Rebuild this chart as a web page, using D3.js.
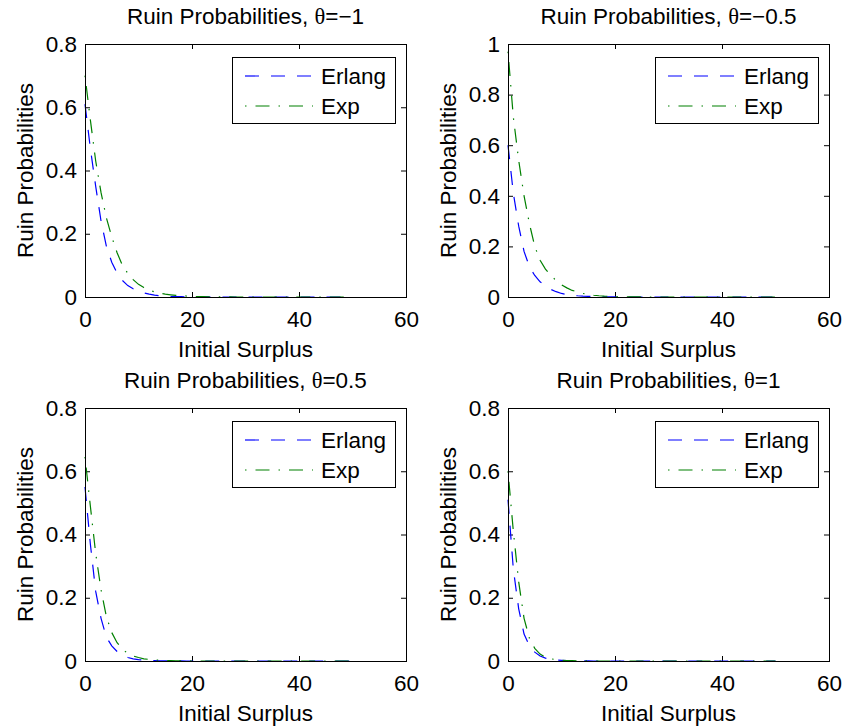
<!DOCTYPE html>
<html>
<head>
<meta charset="utf-8">
<script src="https://cdn.jsdelivr.net/npm/d3@7"></script>
<style>
  body { margin: 0; background: #fff; }
  text { font-family: "Liberation Sans", Arial, sans-serif; fill: #000; }
</style>
</head>
<body>
<svg id="chart" width="843" height="728"></svg>
<script>
var width = 843,
    height = 728;

// x grid: initial surplus 0..50
var surplus = d3.range(0, 51);

var xTicks = [0, 20, 40, 60];
var yTicks08 = [0, 0.2, 0.4, 0.6, 0.8];
var yTicks1 = [0, 0.2, 0.4, 0.6, 0.8, 1];

var thetas = ["\u22121", "\u22120.5", "0.5", "1"];
var seriesNames = ["Erlang", "Exp"];

// ruin probabilities, one value per unit of surplus
var erlangM1 = [0.61, 0.47, 0.35, 0.24, 0.16, 0.11, 0.075, 0.052, 0.036, 0.026,
    0.019, 0.013, 0.009, 0.006, 0.004, 0.003, 0.002, 0.0015, 0.001, 0.0007,
    0.0005, 0.0003, 0.0002, 0.0001, 0, 0, 0, 0, 0, 0,
    0, 0, 0, 0, 0, 0, 0, 0, 0, 0,
    0, 0, 0, 0, 0, 0, 0, 0, 0, 0, 0];
var expM1 = [0.70, 0.56, 0.43, 0.33, 0.25, 0.19, 0.14, 0.10, 0.075, 0.055,
    0.04, 0.03, 0.022, 0.016, 0.012, 0.009, 0.007, 0.005, 0.004, 0.003,
    0.002, 0.0015, 0.001, 0.0007, 0.0005, 0.0003, 0.0002, 0.0001, 0, 0,
    0, 0, 0, 0, 0, 0, 0, 0, 0, 0,
    0, 0, 0, 0, 0, 0, 0, 0, 0, 0, 0];
var erlangM05 = [0.60, 0.41, 0.28, 0.18, 0.12, 0.085, 0.06, 0.043, 0.03, 0.021,
    0.014, 0.01, 0.007, 0.005, 0.0035, 0.0025, 0.0018, 0.0012, 0.0008, 0.0005,
    0.0003, 0.0002, 0.0001, 0, 0, 0, 0, 0, 0, 0,
    0, 0, 0, 0, 0, 0, 0, 0, 0, 0,
    0, 0, 0, 0, 0, 0, 0, 0, 0, 0, 0];
var expM05 = [0.97, 0.71, 0.54, 0.40, 0.29, 0.20, 0.145, 0.11, 0.085, 0.065,
    0.048, 0.036, 0.026, 0.02, 0.014, 0.01, 0.007, 0.005, 0.0035, 0.0025,
    0.0018, 0.0012, 0.0008, 0.0005, 0.0003, 0.0002, 0.0001, 0, 0, 0,
    0, 0, 0, 0, 0, 0, 0, 0, 0, 0,
    0, 0, 0, 0, 0, 0, 0, 0, 0, 0, 0];
var erlangP05 = [0.55, 0.37, 0.22, 0.135, 0.075, 0.048, 0.03, 0.018, 0.011, 0.007,
    0.0045, 0.003, 0.002, 0.0013, 0.0008, 0.0005, 0.0003, 0.0002, 0.0001, 0,
    0, 0, 0, 0, 0, 0, 0, 0, 0, 0,
    0, 0, 0, 0, 0, 0, 0, 0, 0, 0,
    0, 0, 0, 0, 0, 0, 0, 0, 0, 0, 0];
var expP05 = [0.645, 0.49, 0.34, 0.225, 0.14, 0.09, 0.058, 0.037, 0.024, 0.016,
    0.011, 0.007, 0.005, 0.0035, 0.0025, 0.0017, 0.0012, 0.0008, 0.0005, 0.0003,
    0.0002, 0.0001, 0, 0, 0, 0, 0, 0, 0, 0,
    0, 0, 0, 0, 0, 0, 0, 0, 0, 0,
    0, 0, 0, 0, 0, 0, 0, 0, 0, 0, 0];
var erlangP1 = [0.51, 0.29, 0.165, 0.085, 0.048, 0.028, 0.016, 0.009, 0.005, 0.003,
    0.002, 0.0012, 0.0007, 0.0004, 0.0002, 0.0001, 0, 0, 0, 0,
    0, 0, 0, 0, 0, 0, 0, 0, 0, 0,
    0, 0, 0, 0, 0, 0, 0, 0, 0, 0,
    0, 0, 0, 0, 0, 0, 0, 0, 0, 0, 0];
var expP1 = [0.60, 0.41, 0.25, 0.135, 0.072, 0.04, 0.022, 0.012, 0.007, 0.004,
    0.0025, 0.0015, 0.001, 0.0006, 0.0004, 0.0002, 0.0001, 0, 0, 0,
    0, 0, 0, 0, 0, 0, 0, 0, 0, 0,
    0, 0, 0, 0, 0, 0, 0, 0, 0, 0,
    0, 0, 0, 0, 0, 0, 0, 0, 0, 0, 0];

var colors = ["#0000ff", "#008000"],
    dashes = ["14,12", "1.5,9,14,9"],
    fontSize = 22.5,
    tickLen = 5;

var panels = [
    {left: 85, top: 44, yMax: 0.8, yTicks: yTicks08, theta: thetas[0], series: [erlangM1, expM1]},
    {left: 508, top: 44, yMax: 1, yTicks: yTicks1, theta: thetas[1], series: [erlangM05, expM05]},
    {left: 85, top: 408, yMax: 0.8, yTicks: yTicks08, theta: thetas[2], series: [erlangP05, expP05]},
    {left: 508, top: 408, yMax: 0.8, yTicks: yTicks08, theta: thetas[3], series: [erlangP1, expP1]}
];
var plotW = 321,
    plotH = 253;

var svg = d3.select("#chart");

function drawPanel(p) {

    var g = svg.append("g")
        .attr("transform", "translate(" + p.left + "," + p.top + ")");

    var x = d3.scaleLinear().domain([0, 60]).range([0, plotW]);
    var y = d3.scaleLinear().domain([0, p.yMax]).range([plotH, 0]);

    var fmt = function (d) { return d3.format("")(d); };

    // axes on all four sides, ticks pointing inward
    g.append("g").attr("transform", "translate(0," + plotH + ")")
        .call(d3.axisBottom(x).tickValues(xTicks).tickSizeInner(-tickLen).tickSizeOuter(0).tickPadding(14).tickFormat(fmt));
    g.append("g")
        .call(d3.axisTop(x).tickValues(xTicks).tickSizeInner(-tickLen).tickSizeOuter(0).tickFormat(""));
    g.append("g")
        .call(d3.axisLeft(y).tickValues(p.yTicks).tickSizeInner(-tickLen).tickSizeOuter(0).tickPadding(8).tickFormat(fmt));
    g.append("g").attr("transform", "translate(" + plotW + ",0)")
        .call(d3.axisRight(y).tickValues(p.yTicks).tickSizeInner(-tickLen).tickSizeOuter(0).tickFormat(""));

    g.selectAll(".domain").remove();
    g.selectAll(".tick line").attr("stroke", "#000");
    g.selectAll(".tick text")
        .attr("font-size", fontSize)
        .attr("font-family", "Liberation Sans, Arial, sans-serif")
        .attr("fill", "#000");

    var line = d3.line()
        .x(function (d, i) { return x(surplus[i]); })
        .y(function (d) { return y(d); });

    p.series.forEach(function (s, k) {
        g.append("path")
            .datum(s)
            .attr("d", line)
            .attr("fill", "none")
            .attr("stroke", colors[k])
            .attr("stroke-width", 1.2)
            .attr("stroke-dasharray", dashes[k]);
    });

    g.append("rect")
        .attr("x", 0.5).attr("y", 0.5)
        .attr("width", plotW).attr("height", plotH)
        .attr("fill", "none")
        .attr("stroke", "#000")
        .attr("stroke-width", 1);

    // title
    var title = g.append("text")
        .attr("x", plotW / 2)
        .attr("y", -20)
        .attr("text-anchor", "middle")
        .attr("font-size", fontSize);
    title.append("tspan").text("Ruin Probabilities, ");
    title.append("tspan").attr("font-family", "Liberation Serif, serif").text("\u03b8");
    title.append("tspan").text("=" + p.theta);

    // axis labels
    g.append("text")
        .attr("x", plotW / 2)
        .attr("y", plotH + 60)
        .attr("text-anchor", "middle")
        .attr("font-size", fontSize)
        .text("Initial Surplus");
    g.append("text")
        .attr("transform", "translate(-52," + plotH / 2 + ") rotate(-90)")
        .attr("text-anchor", "middle")
        .attr("font-size", fontSize)
        .text("Ruin Probabilities");

    // legend
    var lg = g.append("g")
        .attr("transform", "translate(" + (plotW - 174) + ",13)");
    lg.append("rect")
        .attr("x", 0.5).attr("y", 0.5)
        .attr("width", 163).attr("height", 66)
        .attr("fill", "#fff")
        .attr("stroke", "#000");
    seriesNames.forEach(function (name, k) {
        var ly = 19 + k * 30;
        lg.append("line")
            .attr("x1", 13).attr("x2", 81)
            .attr("y1", ly).attr("y2", ly)
            .attr("stroke", colors[k])
            .attr("stroke-width", 1.2)
            .attr("stroke-dasharray", dashes[k]);
        lg.append("text")
            .attr("x", 89)
            .attr("y", ly + 8)
            .attr("font-size", fontSize)
            .text(name);
    });
}

panels.forEach(drawPanel);
</script>
</body>
</html>
